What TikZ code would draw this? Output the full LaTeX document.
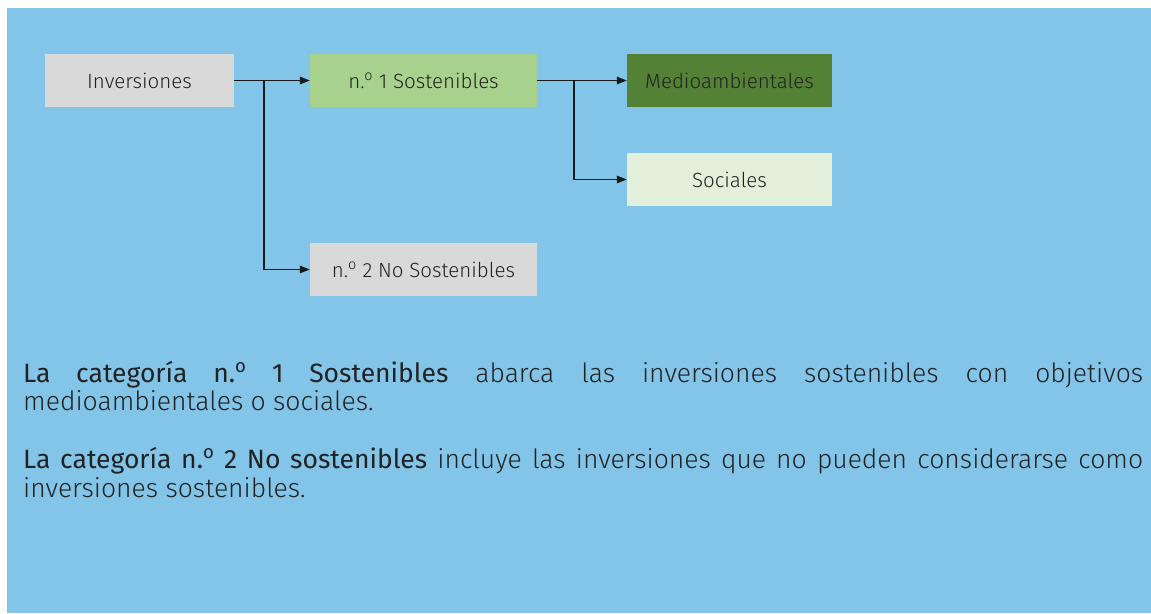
\documentclass[tikz,border=0pt]{standalone}
\usepackage{fontspec}
\setmainfont{Fira Sans Light}
\newfontfamily\lightn{Fira Sans Light}
\newfontfamily\regn{Fira Sans}
\usetikzlibrary{arrows.meta}
\definecolor{bgblue}{HTML}{83C5E8}
\definecolor{boxgrey}{HTML}{D9D9D9}
\definecolor{lgreen}{HTML}{A9D18E}
\definecolor{dgreen}{HTML}{538135}
\definecolor{pgreen}{HTML}{E2EFDA}
\definecolor{txt}{HTML}{222222}
\newcommand{\nro}{n.\textsuperscript{o}}
\tikzset{
  catbox/.style={minimum height=53pt, inner sep=0pt, text=txt,
    font=\fontsize{20.5}{24}\selectfont},
  link/.style={line width=1.5pt, draw=black!90, -{Triangle[length=10pt,width=7.5pt]}},
  para/.style={anchor=base west, inner sep=0pt, text=txt,
    font=\lightn\fontsize{26.5}{30}\selectfont}
}
\begin{document}
\begin{tikzpicture}[x=1pt,y=-1pt]
\useasboundingbox (0,0) rectangle (1151,613);
\fill[bgblue] (7,8) rectangle (1151,613);
% boxes
\node[catbox, fill=boxgrey, minimum width=189pt] (inv) at (139.5,80.5) {Inversiones};
\node[catbox, fill=lgreen, minimum width=227pt] (sos) at (423.5,80.5) {\nro\ 1 Sostenibles};
\node[catbox, fill=dgreen, minimum width=205pt] (med) at (729.5,80.5) {Medioambientales};
\node[catbox, fill=pgreen, minimum width=205pt] (soc) at (729.5,179.5) {Sociales};
\node[catbox, fill=boxgrey, minimum width=227pt] (nos) at (423.5,269.5) {\nro\ 2 No Sostenibles};
% connectors
\coordinate (j1) at (264,80.5);
\coordinate (j2) at (574,80.5);
\draw[link] (inv.east) -- (sos.west);
\draw[link] (j1) |- (nos.west);
\draw[link] (sos.east) -- (med.west);
\draw[link] (j2) |- (soc.west);
% text
\node[para] (p1a) at (23,382) {\makebox[1120pt][s]{{\regn La categoría \nro\ 1 Sostenibles} abarca las inversiones sostenibles con objetivos}};
\node[para] (p1b) at (23,410) {medioambientales o sociales.};
\node[para] (p2a) at (23,468) {\makebox[1120pt][s]{{\regn La categoría \nro\ 2 No sostenibles} incluye las inversiones que no pueden considerarse como}};
\node[para] (p2b) at (23,497) {inversiones sostenibles.};
\end{tikzpicture}
\end{document}
